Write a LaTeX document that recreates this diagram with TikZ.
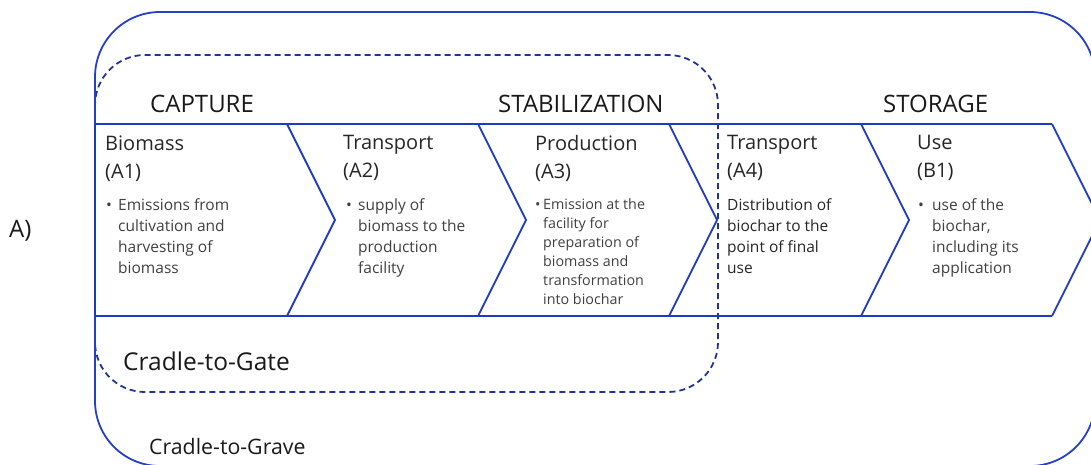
\documentclass[tikz,border=0pt]{standalone}
\usepackage{fontspec}
\setmainfont{Open Sans}
\usepackage{xcolor}
\usepackage{tikz}

\definecolor{frameblue}{RGB}{36,64,200}
\definecolor{chevblue}{RGB}{30,58,190}
\definecolor{gateblue}{RGB}{32,52,150}
\definecolor{bodygray}{RGB}{64,64,64}

\begin{document}
\begin{tikzpicture}[x=1pt,y=-1pt]
	\tikzstyle{phase} = [anchor=west, inner sep=0pt, font=\fontsize{24}{28}\selectfont, text=black!90]
	\tikzstyle{stage} = [anchor=north west, inner sep=0pt, align=left, font=\fontsize{20}{28}\selectfont, text=black!85]
	\tikzstyle{detail} = [anchor=north west, inner sep=0pt, align=left, font=\fontsize{15.5}{21}\selectfont, text=bodygray]
	\tikzstyle{dot} = [anchor=north west, inner sep=0pt, font=\fontsize{15.5}{21}\selectfont, text=bodygray]
	\tikzstyle{chevron} = [draw=chevblue, line width=1.8pt]
	\tikzset{boundary/.style = {line width=1.8pt}}

	\useasboundingbox (0,0) rectangle (1091,465);
	\clip (0,0) rectangle (1091,465);

	% system boundaries
	\draw[boundary, gateblue, dash pattern=on 6pt off 4pt, rounded corners=50pt] (95,55) rectangle (718,392);
	\draw[boundary, frameblue, rounded corners=65pt] (95,12) rectangle (1095,466);

	% chevron row
	\draw[chevron] (1052,124) -- (95,124) -- (95,316) -- (1052,316);
	\foreach \x in {287,478,669,861,1052}
		\draw[chevron] (\x,124) -- (\x+48,220) -- (\x,316);

	\node[phase](capture) at (150,103.5) {CAPTURE};
	\node[phase](stabilization) at (498,103.5) {STABILIZATION};
	\node[phase](storage) at (883,103.5) {STORAGE};

	\node[stage](biomass) at (105,135.5) {Biomass\\(A1)};
	\node[stage](transportA) at (343,135.5) {Transport\\(A2)};
	\node[stage](production) at (535,135.5) {Production\\(A3)};
	\node[stage](transportB) at (727,135.5) {Transport\\(A4)};
	\node[stage](use) at (917,135.5) {Use\\(B1)};

	\node[dot](biomassDot) at (106,196) {\strut\textbullet};
	\node[detail](biomassText) at (118,196) {\strut Emissions from\\cultivation and\\harvesting of\\biomass};
	\node[dot](transportADot) at (346,196) {\strut\textbullet};
	\node[detail](transportAText) at (358,196) {\strut supply of\\biomass to the\\production\\facility};
	\node[dot, font=\fontsize{14.3}{19}\selectfont](productionDot) at (535,195.5) {\strut\textbullet};
	\node[detail, font=\fontsize{14.3}{19}\selectfont](productionText) at (543,195.5) {\strut Emission at the\\facility for\\preparation of\\biomass and\\transformation\\into biochar};
	\node[detail, text=black!85](transportBText) at (727,196) {\strut Distribution of\\biochar to the\\point of final\\use};
	\node[dot](useDot) at (918,196) {\strut\textbullet};
	\node[detail](useText) at (932,196) {\strut use of the\\biochar,\\including its\\application};

	\node[phase, font=\fontsize{24.5}{28}\selectfont](gate) at (123,361) {Cradle-to-Gate};
	\node[phase, font=\fontsize{21.3}{28}\selectfont](grave) at (149,447) {Cradle-to-Grave};
	\node[phase](panel) at (9,231) {A)};
\end{tikzpicture}
\end{document}
